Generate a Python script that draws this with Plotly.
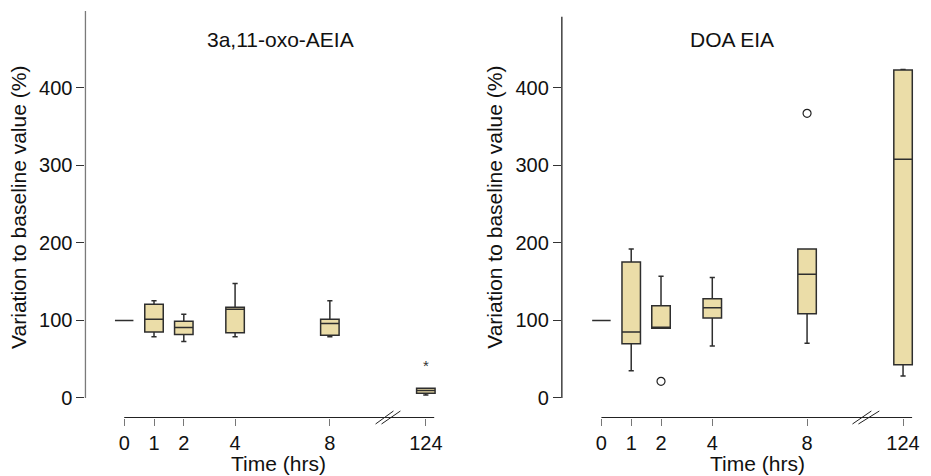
import plotly.graph_objects as go

# ---------------- data ----------------
time_labels = ["0", "1", "2", "4", "8", "124"]

# 3a,11-oxo-AEIA
a_q1 = [100, 85, 82, 84, 81, 6]
a_med = [100, 101.5, 91, 114.5, 96, 9.5]
a_q3 = [100, 121, 99, 117, 101.5, 12.5]
a_low = [100, 79, 73, 79, 79, 4]
a_high = [100, 125.5, 108, 147.5, 125.5, 12.5]
a_star_value = 40  # significance marker above 124 h

# DOA EIA
d_q1 = [100, 70, 90, 103, 108.5, 43]
d_med = [100, 85, 90.5, 116.5, 159.5, 308]
d_q3 = [100, 175.5, 119, 128, 192, 423]
d_low = [100, 35, 90, 67, 70.5, 28.5]
d_high = [100, 192, 157, 155.5, 192, 423.5]
d_out_time = ["2", "8"]
d_out_value = [21.5, 367]

# ---------------- layout constants ----------------
pos = [0, 1, 2, 3.72, 6.9, 10.12]      # plotted x position of each time label
pos_of = dict(zip(time_labels, pos))
FILL = "#EBDDA8"
FONT = "Liberation Sans, Arial, Helvetica, sans-serif"
W, H = 931, 476

fig = go.Figure()


def add_panel(q1, med, q3, lo, hi, xa, ya, linecol):
    fig.add_trace(go.Box(
        x=pos, q1=q1, median=med, q3=q3, lowerfence=lo, upperfence=hi,
        xaxis=xa, yaxis=ya, width=0.62, whiskerwidth=0.28,
        fillcolor=FILL, line=dict(color=linecol, width=1.5),
        boxpoints=False, showlegend=False, hoverinfo="skip"))


add_panel(a_q1, a_med, a_q3, a_low, a_high, "x", "y", "#2e2e2e")
add_panel(d_q1, d_med, d_q3, d_low, d_high, "x2", "y2", "#2e2e2e")

# significance asterisk
fig.add_trace(go.Scatter(
    x=[pos_of["124"]], y=[a_star_value], mode="text", text=["*"],
    textfont=dict(size=15, color="#333", family=FONT),
    xaxis="x", yaxis="y", showlegend=False, hoverinfo="skip"))

# outliers
fig.add_trace(go.Scatter(
    x=[pos_of[t] for t in d_out_time], y=d_out_value, mode="markers",
    marker=dict(symbol="circle-open", size=8, color="#222", line=dict(width=1.2)),
    xaxis="x2", yaxis="y2", showlegend=False, hoverinfo="skip"))


# axis lines and axis-break marks in paper coordinates (pixel positions)
def pline(x0, y0, x1, y1, color="#222", width=1.2):
    return dict(type="line", xref="paper", yref="paper",
                x0=x0 / W, y0=1 - y0 / H, x1=x1 / W, y1=1 - y1 / H,
                line=dict(color=color, width=width), layer="above")


shapes = [
    pline(86, 11, 86, 398, "#7a7a7a", 1.3),
    pline(565.5, 16.7, 565.5, 398, "#222", 1.3),
    pline(125, 417.5, 437, 417.5),
    pline(605.3, 417.5, 918, 417.5),
    pline(378, 424, 396, 411, width=1),
    pline(384, 424, 403, 411, width=1),
    pline(858, 424, 877, 411, width=1),
    pline(864, 424, 885, 411, width=1),
]

ydom = [1 - 418 / H, 1 - 11 / H]
xcommon = dict(tickmode="array", tickvals=pos, ticktext=time_labels,
               ticks="outside", ticklen=7, tickcolor="#777", tickwidth=1,
               showgrid=False, zeroline=False, showline=False,
               tickfont=dict(size=20, color="#111", family=FONT), fixedrange=True)
ycommon = dict(tickmode="array", tickvals=[0, 100, 200, 300, 400],
               ticks="outside", ticklen=8, tickcolor="#333", tickwidth=1,
               showgrid=False, zeroline=False, showline=False, domain=ydom,
               range=[-25.8, 499],
               tickfont=dict(size=20, color="#111", family=FONT), fixedrange=True)


def ann(text, x, y, angle=0):
    return dict(text=text, x=x / W, y=1 - y / H, xref="paper", yref="paper",
                xanchor="center", yanchor="middle", showarrow=False,
                textangle=angle, font=dict(size=21, family=FONT, color="#111"))


fig.update_layout(
    width=W, height=H, margin=dict(l=0, r=0, t=0, b=0),
    paper_bgcolor="white", plot_bgcolor="white",
    font=dict(family=FONT, size=20, color="#111"),
    xaxis=dict(domain=[86 / W, 440 / W], range=[-1.3, 10.5], anchor="y", **xcommon),
    yaxis=dict(anchor="x", **ycommon),
    xaxis2=dict(domain=[565.5 / W, 920 / W], range=[-1.327, 10.49], anchor="y2", **xcommon),
    yaxis2=dict(anchor="x2", **ycommon),
    shapes=shapes,
    annotations=[
        ann("3a,11-oxo-AEIA", 282, 39),
        ann("DOA EIA", 737, 39),
        ann("Time (hrs)", 280, 463),
        ann("Time (hrs)", 762, 463),
        ann("Variation to baseline value (%)", 18, 207, -90),
        ann("Variation to baseline value (%)", 497, 207, -90),
    ],
)

fig.write_html("out.html", config={"displayModeBar": False},
               post_script="document.body.style.margin='0';")
